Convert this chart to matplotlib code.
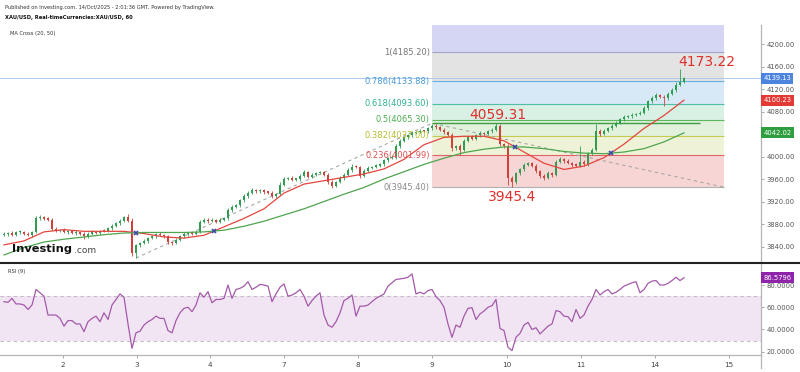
import numpy as np
import matplotlib.pyplot as plt
from matplotlib.lines import Line2D

# hourly closes (one candle ~ 1 hour)
closes = [3862, 3864, 3861, 3865, 3866, 3863, 3860, 3866, 3890, 3893,
          3889, 3888, 3872, 3868, 3870, 3866, 3868, 3864, 3866, 3862,
          3858, 3863, 3866, 3864, 3868, 3867, 3873, 3877, 3882, 3886,
          3892, 3886, 3828, 3842, 3846, 3850, 3855, 3858, 3862, 3860,
          3858, 3848, 3846, 3852, 3858, 3862, 3864, 3863, 3866, 3884,
          3888, 3885, 3887, 3884, 3888, 3890, 3905, 3910, 3914, 3922,
          3930, 3936, 3940, 3938, 3940, 3937, 3936, 3930, 3934, 3950,
          3960, 3962, 3959, 3960, 3966, 3972, 3964, 3968, 3971, 3972,
          3968, 3955, 3948, 3955, 3962, 3968, 3976, 3982, 3981, 3966,
          3975, 3980, 3982, 3984, 3986, 3993, 3997, 3999, 4018, 4028,
          4034, 4038, 4042, 4044, 4046, 4045, 4050, 4054, 4052, 4048,
          4043, 4038, 4015, 4018, 4012, 4028, 4035, 4032, 4038, 4042,
          4040, 4045, 4048, 4055, 4022, 4018, 3962, 3955, 3970, 3978,
          3985, 3988, 3984, 3974, 3966, 3962, 3970, 3968, 3990, 3996,
          3992, 3988, 3985, 3984, 3990, 3986, 4005, 4012, 4045, 4040,
          4046, 4050, 4055, 4060, 4066, 4070, 4072, 4074, 4076, 4078,
          4086, 4098, 4104, 4110, 4106, 4104, 4112, 4118, 4128, 4132,
          4139.13]
first_open = 3860

# upper / lower wick lengths (USD)
wick_hi = [3, 2, 3, 2, 3, 2, 3, 2, 4, 3,
           2, 3, 2, 3, 2, 3, 2, 2, 3, 2,
           3, 2, 3, 2, 2, 3, 2, 3, 2, 3,
           3, 5, 4, 3, 2, 3, 2, 3, 2, 3,
           2, 3, 2, 3, 2, 3, 2, 2, 3, 4,
           3, 2, 3, 2, 3, 2, 4, 3, 2, 3,
           3, 2, 4, 3, 2, 3, 2, 3, 2, 4,
           3, 2, 3, 2, 3, 4, 2, 3, 2, 3,
           3, 2, 3, 2, 3, 2, 3, 4, 3, 2,
           2, 3, 2, 3, 2, 3, 2, 3, 4, 3,
           3, 2, 3, 2, 3, 2, 3, 4, 3, 2,
           3, 2, 4, 3, 5, 3, 2, 3, 2, 3,
           2, 3, 3, 4.31, 3, 2, 4, 3, 3, 2,
           3, 3, 2, 3, 2, 3, 4, 3, 4, 3,
           2, 3, 2, 3, 28, 3, 3, 3, 13, 4,
           3, 2, 3, 3, 2, 3, 2, 3, 2, 3,
           3, 3, 4, 3, 2, 3, 3, 4, 4, 24,
           3]
wick_lo = [2, 3, 2, 3, 2, 3, 2, 3, 2, 3,
           2, 2, 3, 2, 3, 2, 4, 2, 3, 2,
           4, 2, 3, 2, 3, 2, 2, 3, 2, 3,
           2, 3, 4, 8.49, 3, 2, 3, 2, 3, 2,
           3, 3, 4, 2, 3, 2, 3, 2, 3, 2,
           3, 3, 2, 3, 2, 3, 2, 3, 2, 3,
           2, 3, 2, 3, 2, 3, 2, 4, 3, 2,
           3, 2, 3, 2, 3, 2, 3, 2, 3, 2,
           3, 4, 4, 3, 2, 3, 2, 3, 2, 4,
           3, 2, 3, 2, 3, 2, 3, 2, 3, 2,
           3, 2, 3, 2, 3, 2, 3, 2, 3, 3,
           3, 2, 5, 4, 9, 3, 2, 3, 2, 3,
           3, 2, 3, 2, 4, 3, 12, 9.6, 3, 2,
           3, 2, 3, 3, 4, 3, 2, 4, 3, 2,
           3, 2, 3, 2, 3, 3, 2, 3, 2, 4,
           2, 3, 2, 3, 2, 3, 2, 3, 2, 3,
           2, 3, 2, 3, 2, 14, 3, 2, 3, 3,
           2]

# MA cross (20, 50), read every 5 candles
ma_step = 5
ma20 = [3843, 3850, 3866, 3870, 3867, 3867, 3867, 3863, 3857, 3855,
        3860, 3875, 3890, 3907, 3935, 3951, 3957, 3963, 3969, 3978,
        3995, 4021, 4034, 4036, 4036, 4028, 4008, 3988, 3977, 3983,
        3998, 4022, 4050, 4073, 4100.23]
ma50 = [3825, 3838, 3848, 3853, 3857, 3861, 3864, 3865, 3865, 3865,
        3866, 3869, 3876, 3885, 3896, 3907, 3920, 3933, 3945, 3960,
        3973, 3986, 3997, 4007, 4013, 4017, 4017, 4014, 4009, 4006,
        4005, 4008, 4014, 4026, 4042.02]

# RSI (9)
rsi9 = [65, 64.5, 68, 63, 63, 62, 58, 62, 76, 73,
        70, 53, 53, 53, 50, 43, 48, 48, 45, 45,
        38, 47, 50, 52, 47, 55, 49, 62, 67, 72,
        69, 45, 23, 37, 38.5, 44, 47, 49, 52, 50,
        50, 39, 37, 48, 55, 59, 60, 56, 62, 73,
        69, 74, 64, 67, 67, 68, 80, 68, 76, 77,
        79, 83, 76, 78, 80.5, 80, 79, 65, 72, 78,
        81, 70, 71, 73, 76, 70, 61, 66, 70, 73,
        53, 44, 42, 47, 55, 66, 68, 71, 52, 61,
        61, 62, 65, 68, 70, 72, 79, 82, 85, 85.5,
        86, 87, 90, 72, 73.5, 72, 75, 76, 69.5, 66,
        60, 45, 33, 44, 42, 52, 59, 59.6, 49, 54,
        56.6, 60, 61.4, 67, 41, 39, 24, 21, 33, 36.5,
        44, 46.4, 40, 41.6, 36, 39.5, 43, 45, 57, 56,
        52, 51.5, 47, 58, 50, 53, 61, 67, 76, 71,
        74, 76, 72, 73.5, 76, 79, 80.5, 82, 83, 73,
        76, 81.5, 83.5, 84, 80, 80, 81.5, 84, 87, 84,
        86.5796]

day_pos = [14.75, 33.25, 51.5, 70, 88.5, 107, 125.75, 144.25, 162.75, 181.25]
day_labels = ['2', '3', '4', '7', '8', '9', '10', '11', '14', '15']

# price scale labels (4040 sits under the MA50 tag)
price_ticks = [3840, 3880, 3920, 3960, 4000, 4080, 4120, 4160, 4200]

# trend-based fib: anchors A (low), B (high), C (retrace low)
fib_idx = [33, 107, 180]
fib_px = [3819.51, 4059.31, 3945.40]
fib_ratios = [0, 0.236, 0.382, 0.5, 0.618, 0.786, 1, 1.618]
fib_line_col = ['#b0b0b0', '#e06464', '#c5cb4e', '#5cb85c', '#4fc0a8', '#6aaee0', '#a4a4c4', '#9090d0']
fib_txt_col = ['#8a8a8a', '#e05050', '#b5bd2e', '#4caf50', '#2fb08f', '#4a9ad8', '#777777', '#777777']
fib_fill = ['#f7d5d5', '#eef3d8', '#e1f1db', '#d9f0e5', '#d7e9f6', '#e3e3e3', '#d5d5f4']
hl_end = 174

peak_labels = ['4173.22', '4059.31', '3945.4']

UP = '#2f9e52'
DOWN = '#d0413e'

fig = plt.figure(figsize=(8, 3.72), dpi=100)
ax = fig.add_axes([0, 0.29301, 0.95125, 0.63979])
ax2 = fig.add_axes([0, 0.0457, 0.95125, 0.2446])

n = len(closes)
idx = np.arange(n)
c = np.array(closes, float)
o = np.r_[first_open, c[:-1]]
hi = np.maximum(o, c) + np.array(wick_hi)
lo = np.minimum(o, c) - np.array(wick_lo)
col = np.where(c >= o, UP, DOWN)

ymin, ymax = 3810.7, 4233.8

# fib box
base = fib_px[2]
span = fib_px[1] - fib_px[0]
lv = [base + r * span for r in fib_ratios]
for k in range(len(lv) - 1):
    ax.fill_between([fib_idx[1], fib_idx[2]], lv[k], min(lv[k + 1], ymax), color=fib_fill[k],
                    lw=0, zorder=1)
for k, r in enumerate(fib_ratios):
    if lv[k] > ymax:
        continue
    ax.hlines(lv[k], fib_idx[1], fib_idx[2], color=fib_line_col[k], lw=0.8, zorder=2)
    ax.text(fib_idx[1] - 0.6, lv[k], f"{r:g}({lv[k]:.2f})", ha='right', va='center',
            fontsize=6, color=fib_txt_col[k], zorder=6)
ax.plot(fib_idx, fib_px, ls=(0, (3, 3)), color='#a8a8a8', lw=0.8, zorder=2)
ax.hlines(fib_px[1], fib_idx[1], hl_end, color='#3f9c47', lw=1.0, zorder=2)

# current price line
ax.axhline(c[-1], color='#a9cbeb', lw=0.7, zorder=2)

# moving averages
xm = np.arange(0, n, ma_step)
ax.plot(xm, ma20, color='#e3463f', lw=0.9, zorder=5)
ax.plot(xm, ma50, color='#4ea54e', lw=0.9, zorder=5)
d = np.array(ma20) - np.array(ma50)
for k in np.where(np.sign(d[:-1]) != np.sign(d[1:]))[0]:
    t = d[k] / (d[k] - d[k + 1])
    ax.plot(xm[k] + t * ma_step, ma20[k] + t * (ma20[k + 1] - ma20[k]), marker='x',
            ms=3.5, mew=1.2, color='#3a4aa8', zorder=7)

# candles
ax.vlines(idx, lo, hi, colors=col, lw=0.6, zorder=3)
ax.bar(idx, np.maximum(np.abs(c - o), 2.2), bottom=np.minimum(o, c), width=0.72,
       color=col, lw=0, zorder=4)

# peak / trough labels
i_hi = int(np.argmax(hi))
ax.annotate(peak_labels[0], (i_hi, hi[i_hi]), xytext=(19, 0), textcoords='offset points',
            ha='center', va='bottom', fontsize=10, color='#e0302c', zorder=8)
ax.annotate(peak_labels[1], (123, hi[123]), xytext=(1, 1), textcoords='offset points',
            ha='center', va='bottom', fontsize=10, color='#e0302c', zorder=8)
i_lo = 127
ax.annotate(peak_labels[2], (i_lo, lo[i_lo]), xytext=(0, -2), textcoords='offset points',
            ha='center', va='top', fontsize=10, color='#e0302c', zorder=8)

xlim = (-1, 189.25)
ax.set_xlim(xlim)
ax.set_ylim(ymin, ymax)
ax.set_xticks([])
ax.yaxis.tick_right()
ax.set_yticks(price_ticks)
ax.set_yticklabels([f"{v:.2f}" for v in price_ticks])
ax.tick_params(axis='y', length=2.5, width=0.6, color='#999999', labelsize=4.9,
               labelcolor='#555555', pad=1.5)
for s in ['top', 'left', 'bottom']:
    ax.spines[s].set_visible(False)
ax.spines['right'].set_color('#b5b5b5')
ax.spines['right'].set_linewidth(0.9)

# value tags on the price scale
for val, fc in [(c[-1], '#4c84e0'), (ma20[-1], '#e53935'), (ma50[-1], '#2f9e3f')]:
    ax.text(1.003, val, f"{val:.2f}", transform=ax.get_yaxis_transform(), ha='left',
            va='center', fontsize=4.9, color='white', zorder=10,
            bbox=dict(boxstyle='square,pad=0.35', fc=fc, ec='none'))

ax.text(0.0125, 0.975, 'MA Cross (20, 50)', transform=ax.transAxes, fontsize=3.7,
        color='#333333', va='top')

# RSI panel
ax2.axhspan(30, 70, color='#f1e5f4', lw=0, zorder=1)
ax2.axhline(70, color='#c4b9c6', lw=0.8, ls=(0, (3, 3)), zorder=2)
ax2.axhline(30, color='#c4b9c6', lw=0.8, ls=(0, (3, 3)), zorder=2)
ax2.plot(idx, rsi9, color='#a35aa8', lw=0.9, zorder=3)
ax2.set_xlim(xlim)
ax2.set_ylim(17.05, 98.9)
ax2.yaxis.tick_right()
ax2.set_yticks([20, 40, 60, 80])
ax2.set_yticklabels([f"{v:.4f}" for v in [20, 40, 60, 80]])
ax2.tick_params(axis='y', length=2.5, width=0.6, color='#999999', labelsize=4.9,
                labelcolor='#555555', pad=1.5)
ax2.set_xticks(day_pos)
ax2.set_xticklabels(day_labels)
ax2.tick_params(axis='x', length=2.5, width=0.6, color='#999999', labelsize=5.2,
                labelcolor='#444444', pad=2.5)
for s in ['top', 'left']:
    ax2.spines[s].set_visible(False)
for s in ['right', 'bottom']:
    ax2.spines[s].set_color('#b5b5b5')
    ax2.spines[s].set_linewidth(0.9)
ax2.text(1.003, rsi9[-1], f"{rsi9[-1]:.4f}", transform=ax2.get_yaxis_transform(), ha='left',
         va='center', fontsize=4.9, color='white', zorder=10,
         bbox=dict(boxstyle='square,pad=0.35', fc='#8e24aa', ec='none'))
ax2.text(0.01, 0.95, 'RSI (9)', transform=ax2.transAxes, fontsize=3.7, color='#333333', va='top')

# frame lines
fig.add_artist(Line2D([0, 1], [0.29301, 0.29301], color='#222222', lw=1.5))
fig.add_artist(Line2D([0.95125, 0.95125], [0.011, 0.0457], color='#b5b5b5', lw=0.9))

# header and logo
fig.text(0.006, 0.981, 'Published on Investing.com, 14/Oct/2025 - 2:01:36 GMT, Powered by TradingView.',
         fontsize=3.7, color='#333333', va='center')
fig.text(0.006, 0.953, 'XAU/USD, Real-timeCurrencies:XAU/USD, 60', fontsize=3.7,
         fontweight='bold', color='#111111', va='center')
fig.text(0.0155, 0.331, 'Investing', fontsize=8.2, fontweight='bold', color='#111111', va='center')
fig.text(0.092, 0.327, '.com', fontsize=6.5, color='#444444', va='center')

fig.savefig('out.png', dpi=100)
